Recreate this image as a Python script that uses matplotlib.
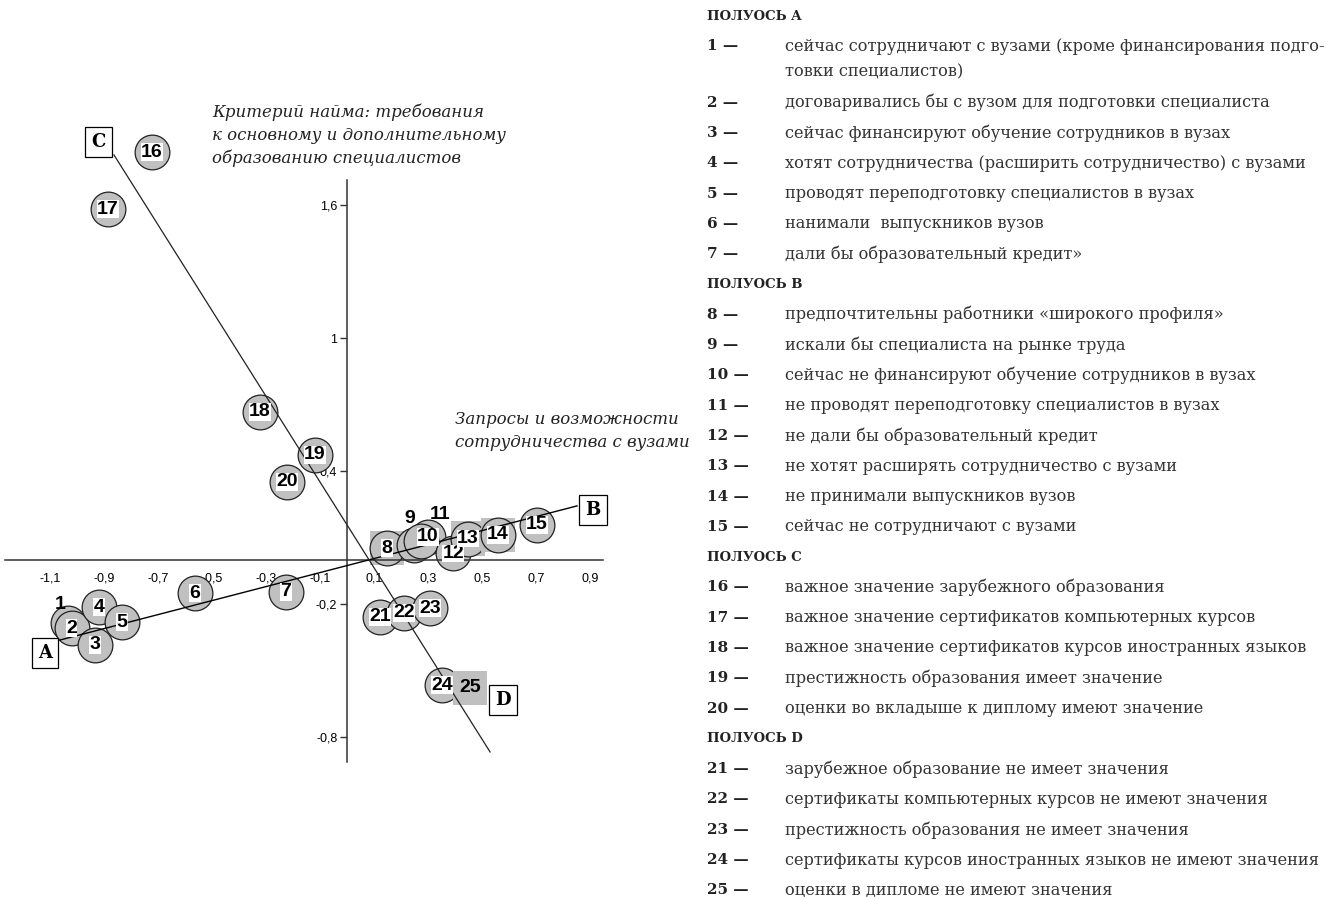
import numpy as np
import matplotlib.pyplot as plt

# координаты точек на плоскости (по картинке)
point_ids = list(range(1, 26))
point_x = [-1.033, -1.019, -0.933, -0.919, -0.833, -0.563, -0.226, 0.148, 0.248, 0.300,
           0.274, 0.393, 0.448, 0.559, 0.704, -0.722, -0.885, -0.322, -0.119, -0.222,
           0.122, 0.211, 0.307, 0.352, 0.456]
point_y = [-0.284, -0.307, -0.383, -0.212, -0.280, -0.149, -0.144, 0.054, 0.068, 0.104,
           0.086, 0.030, 0.096, 0.113, 0.158, 1.840, 1.583, 0.668, 0.474, 0.352,
           -0.257, -0.239, -0.217, -0.564, -0.577]
square_ids = [8, 13, 14, 25]
bare_ids = [25]
outside_labels = {1: (-6, 13), 9: (-3, 19), 11: (14, 19)}

pole_names = ["A", "B", "C", "D"]
pole_x = [-1.118, 0.911, -0.922, 0.578]
pole_y = [-0.419, 0.226, 1.885, -0.631]

axis_ab_x = [-1.063, 0.852]
axis_ab_y = [-0.361, 0.244]
axis_cd_x = [-0.863, 0.530]
axis_cd_y = [1.827, -0.866]

xticks = [-1.1, -0.9, -0.7, -0.5, -0.3, -0.1, 0.1, 0.3, 0.5, 0.7, 0.9]
yticks = [1.6, 1.0, 0.4, -0.2, -0.8]

group_names = ["ПОЛУОСЬ A", "ПОЛУОСЬ B", "ПОЛУОСЬ C", "ПОЛУОСЬ D"]
group_items = [
    ["сейчас сотрудничают с вузами (кроме финансирования подго-\nтовки специалистов)",
     "договаривались бы с вузом для подготовки специалиста",
     "сейчас финансируют обучение сотрудников в вузах",
     "хотят сотрудничества (расширить сотрудничество) с вузами",
     "проводят переподготовку специалистов в вузах",
     "нанимали  выпускников вузов",
     "дали бы образовательный кредит»"],
    ["предпочтительны работники «широкого профиля»",
     "искали бы специалиста на рынке труда",
     "сейчас не финансируют обучение сотрудников в вузах",
     "не проводят переподготовку специалистов в вузах",
     "не дали бы образовательный кредит",
     "не хотят расширять сотрудничество с вузами",
     "не принимали выпускников вузов",
     "сейчас не сотрудничают с вузами"],
    ["важное значение зарубежного образования",
     "важное значение сертификатов компьютерных курсов",
     "важное значение сертификатов курсов иностранных языков",
     "престижность образования имеет значение",
     "оценки во вкладыше к диплому имеют значение"],
    ["зарубежное образование не имеет значения",
     "сертификаты компьютерных курсов не имеют значения",
     "престижность образования не имеет значения",
     "сертификаты курсов иностранных языков не имеют значения",
     "оценки в дипломе не имеют значения"],
]

W, H = 1336, 897
fig = plt.figure(figsize=(W / 100, H / 100), dpi=100)
ax = fig.add_axes([0, 97 / H, 700 / W, 740 / H])
ax.set_xlim(-347 / 270, 353 / 270)
ax.set_ylim(-240 / 221.7, 500 / 221.7)
ax.patch.set_alpha(0)

for s in ["top", "right"]:
    ax.spines[s].set_visible(False)
ax.spines["left"].set_position(("data", 0))
ax.spines["bottom"].set_position(("data", 0))
ax.spines["left"].set_bounds(-0.911, 1.714)
ax.spines["bottom"].set_bounds(-1.267, 0.948)
for s in ["left", "bottom"]:
    ax.spines[s].set_linewidth(1.1)
    ax.spines[s].set_color("#333333")

ax.set_xticks(xticks)
ax.set_xticklabels([f"{v:.1f}".replace(".", ",") for v in xticks])
ax.set_yticks(yticks)
ax.set_yticklabels([f"{v:g}".replace(".", ",") for v in yticks])
ax.tick_params(axis="x", length=0, pad=9, labelsize=9)
ax.tick_params(axis="y", length=5, width=1, direction="out", pad=2, labelsize=9,
               color="#333333")
for lab in ax.get_xticklabels() + ax.get_yticklabels():
    lab.set_fontfamily("Liberation Sans")

gray = "#c0c0c0"
msize = 25
for i, x, y in zip(point_ids, point_x, point_y):
    z = 2 + i * 0.01
    if i in square_ids:
        ax.scatter(x, y, s=msize ** 2, marker="s", color=gray, edgecolor="none", zorder=z)
    if i not in bare_ids:
        ax.scatter(x, y, s=msize ** 2, marker="o", color=gray, edgecolor="#222222",
                   linewidth=0.9, zorder=z)

ax.plot(axis_ab_x, axis_ab_y, color="black", lw=1.0, zorder=3)
ax.plot(axis_cd_x, axis_cd_y, color="#222222", lw=0.9, zorder=3)

for i, x, y in zip(point_ids, point_x, point_y):
    if i in outside_labels:
        ax.annotate(str(i), (x, y), xytext=outside_labels[i], textcoords="offset points",
                    ha="center", va="center", fontsize=14, fontweight="bold",
                    family="Liberation Sans", zorder=5)
    elif i in bare_ids:
        ax.text(x, y, str(i), ha="center", va="center", fontsize=14, fontweight="bold",
                family="Liberation Sans", zorder=5)
    else:
        ax.text(x, y, str(i), ha="center", va="center", fontsize=14, fontweight="bold",
                family="Liberation Sans", zorder=5,
                bbox=dict(facecolor="white", edgecolor="none", pad=0.2))

for name, x, y in zip(pole_names, pole_x, pole_y):
    ax.text(x, y, name, ha="center", va="center", fontsize=13, fontweight="bold",
            family="DejaVu Serif", zorder=6,
            bbox=dict(boxstyle="square,pad=0.35", facecolor="white", edgecolor="black",
                      linewidth=0.9))

ax.text(-0.5, 2.06, "Критерий найма: требования\nк основному и дополнительному\nобразованию специалистов",
        ha="left", va="top", fontsize=12, style="italic", family="DejaVu Serif",
        linespacing=1.45, color="#222222")
ax.text(0.4, 0.672, "Запросы и возможности\nсотрудничества с вузами",
        ha="left", va="top", fontsize=12, style="italic", family="DejaVu Serif",
        linespacing=1.45, color="#222222")

# легенда справа
x_num, x_txt = 707, 785
y = 16
num = 1
for gname, items in zip(group_names, group_items):
    fig.text(x_num / W, 1 - y / H, gname, ha="left", va="center", fontsize=9.5,
             fontweight="bold", family="DejaVu Serif", color="#222222")
    y += 30.3
    for it in items:
        fig.text(x_num / W, 1 - y / H, f"{num} —", ha="left", va="center", fontsize=11,
                 fontweight="bold", family="DejaVu Serif", color="#222222")
        lines = it.split("\n")
        for k, ln in enumerate(lines):
            fig.text(x_txt / W, 1 - (y + 26 * k) / H, ln, ha="left", va="center",
                     fontsize=11.7, family="DejaVu Serif", color="#333333")
        y += 30.3 + 26 * (len(lines) - 1)
        num += 1

fig.savefig("out.png", dpi=100)
